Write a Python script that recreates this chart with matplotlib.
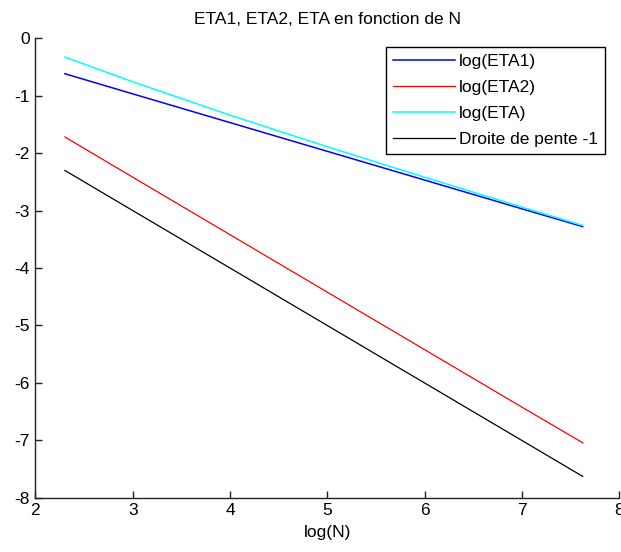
import numpy as np
import matplotlib
matplotlib.use("Agg")
import matplotlib.pyplot as plt

plt.rcParams.update({
    "font.family": ["Liberation Sans", "DejaVu Sans"],
    "font.size": 12.5,
    "axes.unicode_minus": False,
})

# log(N) sample points and the three error estimators
log_n = [2.303, 3.0, 4.0, 5.0, 6.0, 7.0, 7.625]
log_eta1 = [-0.62, -0.97, -1.47, -1.97, -2.47, -2.97, -3.28]
log_eta2 = [-1.72, -2.42, -3.42, -4.42, -5.42, -6.42, -7.04]
log_eta = [-0.33, -0.76, -1.34, -1.89, -2.42, -2.94, -3.26]
ref_slope = [-2.303, -3.0, -4.0, -5.0, -6.0, -7.0, -7.625]

fig = plt.figure(figsize=(6.21, 5.52), dpi=100)
ax = fig.add_axes([0.057, 0.098, 0.94, 0.833])

ax.plot(log_n, log_eta1, color="#0000FF", lw=1.1, label="log(ETA1)")
ax.plot(log_n, log_eta2, color="#FF0000", lw=0.9, label="log(ETA2)")
ax.plot(log_n, log_eta, color="#00FFFF", lw=1.1, label="log(ETA)")
ax.plot(log_n, ref_slope, color="#000000", lw=0.9, label="Droite de pente -1")

ax.set_xlim(2, 8)
ax.set_ylim(-8, 0)
ax.set_xticks(range(2, 9))
ax.set_yticks(range(-8, 1))
ax.tick_params(direction="in", length=5, width=1, colors="#222222",
               labelcolor="black", pad=4)
for side in ("top", "right"):
    ax.spines[side].set_visible(False)
for side in ("left", "bottom"):
    ax.spines[side].set_color("#222222")
    ax.spines[side].set_linewidth(1)

ax.set_title("ETA1, ETA2, ETA en fonction de N", fontsize=12.5, pad=10)
ax.set_xlabel("log(N)", labelpad=5)

leg = ax.legend(loc="upper right", bbox_to_anchor=(0.975, 0.98),
                fancybox=False, framealpha=1, edgecolor="black",
                handlelength=3.6, handletextpad=0.2, borderpad=0.4,
                labelspacing=0.62, borderaxespad=0)
leg.get_frame().set_linewidth(1)

fig.savefig("out.png", dpi=100)
